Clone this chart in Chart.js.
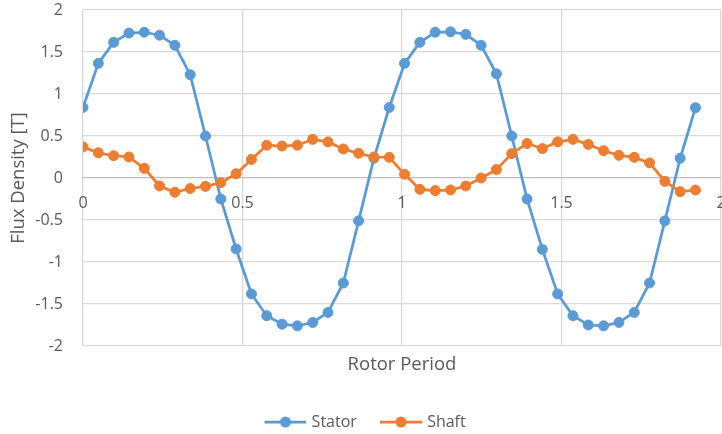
<!DOCTYPE html>
<html>
<head>
<meta charset="utf-8">
<script src="https://cdn.jsdelivr.net/npm/chart.js@4/dist/chart.umd.min.js"></script>
<style>
  html, body { margin: 0; padding: 0; background: #ffffff; }
  #wrap { width: 722px; height: 434px; }
</style>
</head>
<body>
<div id="wrap"><canvas id="chart" width="722" height="434"></canvas></div>
<script>
// Rotor position (fraction of rotor period) for each sample
const rotorPeriod = [0, 0.048, 0.096, 0.144, 0.192, 0.24, 0.288, 0.336, 0.384, 0.432,
  0.48, 0.528, 0.576, 0.624, 0.672, 0.72, 0.768, 0.816, 0.864, 0.912,
  0.96, 1.008, 1.056, 1.104, 1.152, 1.2, 1.248, 1.296, 1.344, 1.392,
  1.44, 1.488, 1.536, 1.584, 1.632, 1.68, 1.728, 1.776, 1.824, 1.872, 1.92];

// Flux density in the stator [T]
const statorFlux = [0.84, 1.365, 1.615, 1.725, 1.735, 1.70, 1.58, 1.23, 0.50, -0.25,
  -0.845, -1.38, -1.64, -1.74, -1.76, -1.72, -1.60, -1.25, -0.51, 0.235,
  0.84, 1.365, 1.615, 1.735, 1.74, 1.71, 1.58, 1.24, 0.50, -0.25,
  -0.85, -1.38, -1.64, -1.75, -1.76, -1.72, -1.60, -1.25, -0.51, 0.235, 0.837];

// Flux density in the shaft [T]
const shaftFlux = [0.37, 0.30, 0.265, 0.25, 0.115, -0.095, -0.17, -0.125, -0.10, -0.056,
  0.05, 0.22, 0.39, 0.38, 0.39, 0.46, 0.43, 0.345, 0.294, 0.25,
  0.246, 0.044, -0.135, -0.15, -0.143, -0.095, 0.0, 0.10, 0.29, 0.41,
  0.35, 0.43, 0.46, 0.40, 0.325, 0.27, 0.246, 0.18, -0.04, -0.163, -0.143];

const xTicks = [0, 0.5, 1, 1.5, 2];
const seriesNames = ['Stator', 'Shaft'];
const seriesColors = ['#5B9BD5', '#ED7D31'];

const textColor = '#595959';
const gridColor = '#d9d9d9';
const fontFamily = "'Open Sans', 'Liberation Sans', sans-serif";

function toPoints(xs, ys) {
  return xs.map((x, i) => ({ x: x, y: ys[i] }));
}
const plainNumber = (v) => String(Number(v));

// Legend symbol: a short line with a round marker in the middle
function legendSymbol(color) {
  const c = document.createElement('canvas');
  c.width = 54; c.height = 14;
  const g = c.getContext('2d');
  g.strokeStyle = color;
  g.lineWidth = 2.75;
  g.beginPath(); g.moveTo(12, 7); g.lineTo(54, 7); g.stroke();
  g.fillStyle = color;
  g.beginPath(); g.arc(33, 7, 5.5, 0, Math.PI * 2); g.fill();
  return c;
}
const symbols = seriesColors.map(legendSymbol);

function lineDataset(i, values, order) {
  return {
    label: seriesNames[i],
    data: toPoints(rotorPeriod, values),
    borderColor: seriesColors[i],
    backgroundColor: seriesColors[i],
    borderWidth: 2.75,
    pointRadius: 5,
    pointBorderWidth: 1,
    pointHoverRadius: 5,
    pointBackgroundColor: seriesColors[i],
    pointBorderColor: seriesColors[i],
    tension: 0,
    showLine: true,
    order: order
  };
}

new Chart(document.getElementById('chart'), {
  type: 'scatter',
  data: {
    datasets: [
      lineDataset(0, statorFlux, 1),
      lineDataset(1, shaftFlux, 0)
    ]
  },
  options: {
    responsive: false,
    animation: false,
    layout: { autoPadding: false, padding: { left: 0, right: 1, top: 0, bottom: -6 } },
    scales: {
      x: {
        type: 'linear',
        position: 'bottom',
        min: 0, max: 2,
        afterBuildTicks: (s) => { s.ticks = xTicks.map(v => ({ value: v })); },
        ticks: { display: false },
        grid: { color: gridColor, lineWidth: 1.3, drawTicks: false },
        border: { display: false },
        title: {
          display: true,
          text: 'Rotor Period',
          color: textColor,
          font: { family: fontFamily, size: 18.5 },
          padding: { top: 0, bottom: 24.5 }
        },
        afterFit: (s) => { s.height = 54; }
      },
      // tick labels of the horizontal axis, sitting on the zero line
      xAxis0: {
        type: 'linear',
        position: { y: 0 },
        min: 0, max: 2,
        afterBuildTicks: (s) => { s.ticks = xTicks.map(v => ({ value: v })); },
        ticks: {
          color: textColor,
          font: { family: fontFamily, size: 16 },
          padding: 16,
          maxRotation: 0,
          autoSkip: false,
          callback: plainNumber
        },
        grid: { display: false, drawTicks: false },
        border: { display: false },
        afterFit: (s) => {
          s.height = 0;
          s.paddingLeft = 0; s.paddingRight = 0;
          s.paddingTop = 0; s.paddingBottom = 0;
        }
      },
      y: {
        min: -2, max: 2,
        ticks: {
          stepSize: 0.5,
          color: textColor,
          font: { family: fontFamily, size: 16 },
          padding: 20,
          callback: plainNumber
        },
        grid: {
          color: (ctx) => (ctx.tick && ctx.tick.value === 0) ? '#bfbfbf' : gridColor,
          lineWidth: 1.3,
          drawTicks: false
        },
        border: { display: false },
        title: {
          display: true,
          text: 'Flux Density [T]',
          color: textColor,
          font: { family: fontFamily, size: 18.5 },
          padding: { top: 8, bottom: 0 }
        },
        afterFit: (s) => {
          s.width = 83;
          s.paddingTop = 10;
          s.paddingBottom = 0;
        }
      }
    },
    plugins: {
      tooltip: { enabled: false },
      legend: {
        display: true,
        position: 'bottom',
        labels: {
          color: textColor,
          font: { family: fontFamily, size: 16 },
          usePointStyle: true,
          pointStyleWidth: 48.3,
          padding: 14,
          generateLabels: (chart) => {
            const items = Chart.defaults.plugins.legend.labels.generateLabels(chart);
            items.sort((a, b) => a.datasetIndex - b.datasetIndex);
            items.forEach(it => { it.pointStyle = symbols[it.datasetIndex]; });
            return items;
          }
        }
      }
    }
  }
});
</script>
</body>
</html>
